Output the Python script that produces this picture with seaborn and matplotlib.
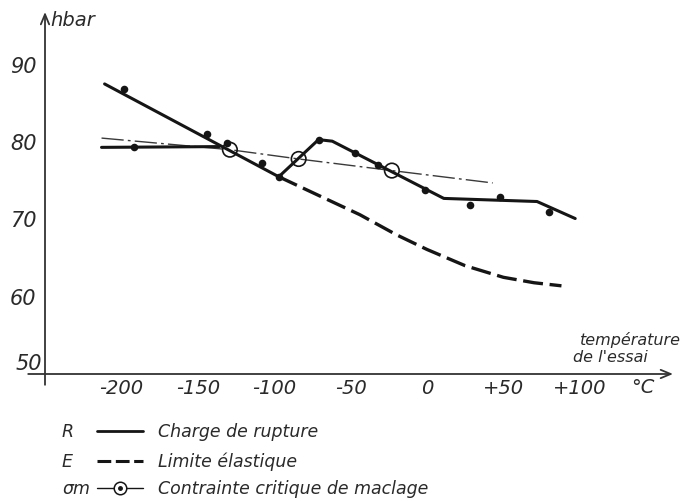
import matplotlib
matplotlib.use("Agg")
import matplotlib.pyplot as plt
from matplotlib.lines import Line2D
import seaborn as sns

# Charge de rupture (R): main branch and the low-temperature plateau
r_main_t = [-211, -97, -71, -62, 11, 72, 97]
r_main_v = [87.5, 75.5, 80.3, 80.1, 72.7, 72.3, 70.1]
r_low_t = [-213, -136]
r_low_v = [79.3, 79.4]

# measured points of R
pts_t = [-198, -192, -144, -131, -108, -97, -71, -47, -32, -1, 28, 48, 80]
pts_v = [86.8, 79.3, 81.0, 79.8, 77.3, 75.5, 80.3, 78.6, 77.0, 73.8, 71.9, 72.9, 71.0]

# Limite élastique (E)
e_t = [-97, -70, -44, -20, 0, 25, 50, 70, 88]
e_v = [75.5, 73.0, 70.6, 68.0, 66.1, 64.0, 62.5, 61.8, 61.4]

# Contrainte critique de maclage (sigma_m)
sm_t = [-213, -129, -84, -23, 43]
sm_v = [80.5, 79.0, 77.8, 76.3, 74.7]
sm_circ_t = [-129, -84, -23]
sm_circ_v = [79.0, 77.8, 76.3]

x_ticks = [-200, -150, -100, -50, 0, 50, 100]
x_labels = ["-200", "-150", "-100", "-50", "0", "+50", "+100"]
y_ticks = [60, 70, 80, 90]
y_labels = ["60", "70", "80", "90"]

sns.set_theme(style="white")
plt.rcParams["font.family"] = ["DejaVu Sans"]
plt.rcParams["font.style"] = "italic"

INK = "#151515"
TXT = "#2a2a2a"
W, H = 682, 501


def fig_xy(px, py):
    return px / W, 1 - py / H


fig = plt.figure(figsize=(W / 100, H / 100), dpi=100)
fig.patch.set_facecolor("white")
ax = fig.add_axes([45 / W, 1 - 374 / H, (673 - 45) / W, (374 - 12) / H])
ax.set_xlim(-250, 161)
ax.set_ylim(50, 96.8)
ax.set_facecolor("none")
for s in ax.spines.values():
    s.set_visible(False)

# axes drawn as arrows
arrow = dict(arrowstyle="->,head_length=0.6,head_width=0.25", color="#333333", lw=1.3,
             shrinkA=0, shrinkB=0)
ax.annotate("", xy=(161, 50), xytext=(-261, 50), xycoords="data", arrowprops=arrow,
            annotation_clip=False)
ax.annotate("", xy=(-250, 96.8), xytext=(-250, 48.6), xycoords="data", arrowprops=arrow,
            annotation_clip=False)

ax.set_xticks(x_ticks)
ax.set_xticklabels(x_labels, fontsize=14, color=TXT, style="italic")
ax.set_yticks(y_ticks)
ax.set_yticklabels(y_labels, fontsize=15, color=TXT, style="italic")
ax.tick_params(axis="x", direction="inout", length=7, width=1.1, color="#333333", pad=0)
ax.tick_params(axis="y", direction="out", length=3, width=1.1, color="#333333", pad=3)
ax.set_xlabel("")
ax.set_ylabel("")
ax.text(-252, 50.05, "50", ha="right", va="bottom", fontsize=15, color=TXT)
ax.annotate("°C", xy=(141, 50), xytext=(0, -3), textcoords="offset points",
            ha="center", va="top", fontsize=14, color=TXT, annotation_clip=False)

# curves
sns.lineplot(x=sm_t, y=sm_v, sort=False, estimator=None, color="#3a3a3a", lw=1.0,
             linestyle=(0, (16, 3, 2, 3)), ax=ax)
sns.lineplot(x=r_main_t, y=r_main_v, sort=False, estimator=None, color=INK, lw=2.2, ax=ax)
sns.lineplot(x=r_low_t, y=r_low_v, sort=False, estimator=None, color=INK, lw=2.2, ax=ax)
sns.lineplot(x=e_t, y=e_v, sort=False, estimator=None, color=INK, lw=2.4,
             linestyle=(0, (6, 2)), ax=ax)
sns.scatterplot(x=pts_t, y=pts_v, color=INK, s=30, linewidth=0, ax=ax, zorder=4)
sns.scatterplot(x=sm_circ_t, y=sm_circ_v, marker="o", s=110, facecolor="none",
                edgecolor=INK, linewidth=1.2, ax=ax, zorder=5)

# axis captions
fig.text(*fig_xy(681, 340), "température", ha="right", va="center", fontsize=11.5, color=TXT)
fig.text(*fig_xy(648, 357), "de l'essai", ha="right", va="center", fontsize=11.5, color=TXT)
fig.text(*fig_xy(50, 20), "hbar", ha="left", va="center", fontsize=14, color=TXT)

# key
rows = [(432, "R", "Charge de rupture"),
        (462, "E", "Limite élastique"),
        (489, "σm", "Contrainte critique de maclage")]
for py, sym, label in rows:
    fig.text(*fig_xy(62, py), sym, ha="left", va="center", fontsize=12.5, color=TXT)
    fig.text(*fig_xy(158, py), label, ha="left", va="center", fontsize=12.5, color=TXT)

x0, y0 = fig_xy(97, 431)
x1, _ = fig_xy(143, 431)
fig.add_artist(Line2D([x0, x1], [y0, y0], color=INK, lw=2.0, transform=fig.transFigure))
_, y0 = fig_xy(97, 461)
fig.add_artist(Line2D([x0, x1], [y0, y0], color=INK, lw=2.2, linestyle=(0, (4.5, 1.5)),
                      transform=fig.transFigure))
_, y0 = fig_xy(97, 488)
fig.add_artist(Line2D([x0, x1], [y0, y0], color=INK, lw=1.0, transform=fig.transFigure))
cx, _ = fig_xy(120, 488)
fig.add_artist(Line2D([cx], [y0], marker="o", markersize=9, markerfacecolor="white",
                      markeredgecolor=INK, markeredgewidth=1.1, linestyle="",
                      transform=fig.transFigure))
fig.add_artist(Line2D([cx], [y0], marker="o", markersize=2.5, color=INK, linestyle="",
                      transform=fig.transFigure))

fig.savefig("out.png", dpi=100, facecolor="white")
